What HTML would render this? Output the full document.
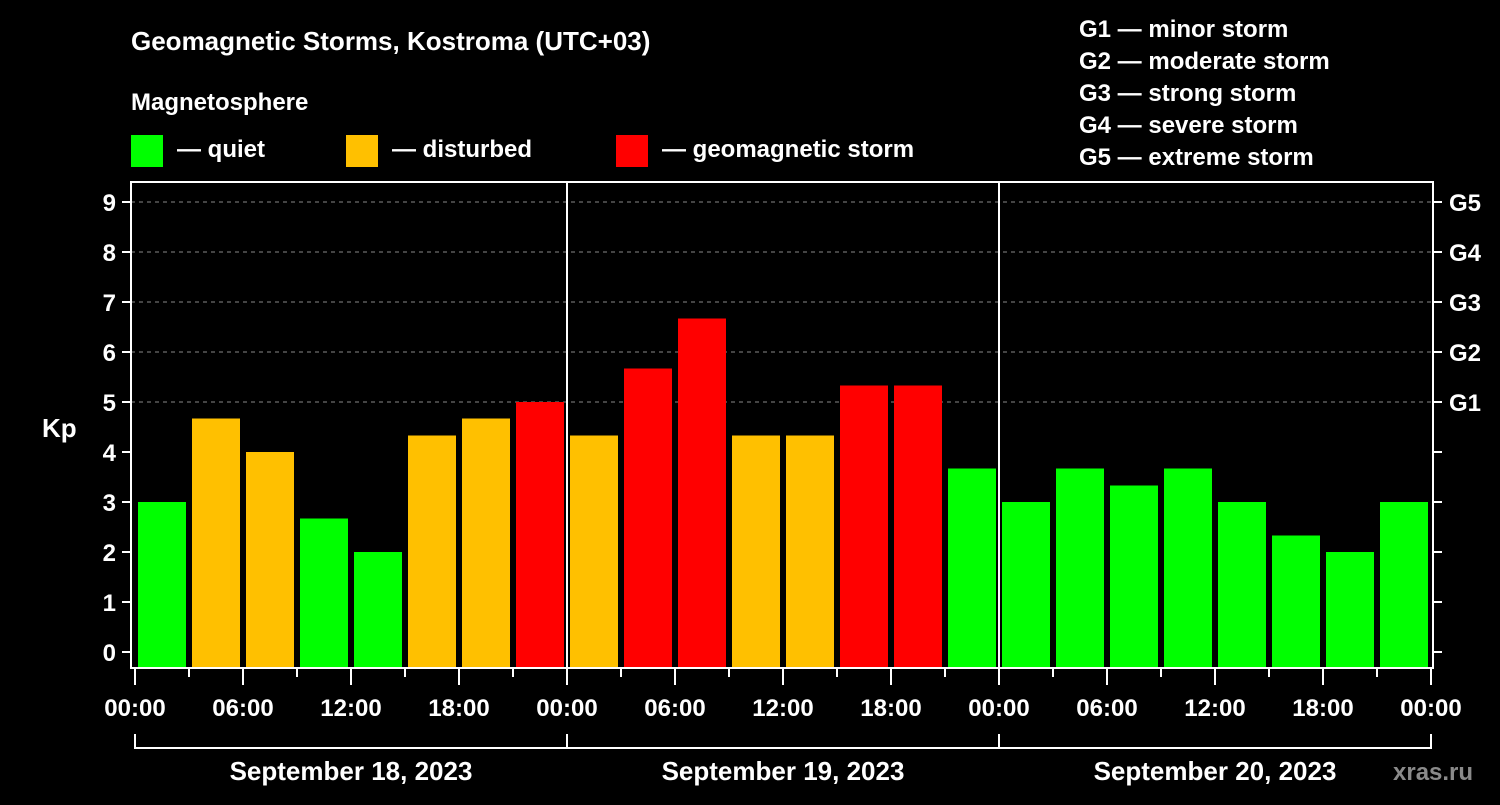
<!DOCTYPE html>
<html><head><meta charset="utf-8"><style>
html,body{margin:0;padding:0;background:#000;}
svg text{font-family:"Liberation Sans",sans-serif;font-weight:bold;fill:#fff;}
</style></head><body>
<svg id="c" width="1500" height="800" xmlns="http://www.w3.org/2000/svg">
<rect width="1500" height="800" fill="#000"/>
<text x="131" y="50" font-size="26">Geomagnetic Storms, Kostroma (UTC+03)</text>
<text x="131" y="110" font-size="24">Magnetosphere</text>
<g><rect x="131" y="135" width="32" height="32" fill="#00ff00"/><text x="177" y="157" font-size="24">— quiet</text></g>
<g><rect x="346" y="135" width="32" height="32" fill="#ffc000"/><text x="392" y="157" font-size="24">— disturbed</text></g>
<g><rect x="616" y="135" width="32" height="32" fill="#ff0000"/><text x="662" y="157" font-size="24">— geomagnetic storm</text></g>
<g font-size="24">
<text x="1079" y="37">G1 — minor storm</text>
<text x="1079" y="69">G2 — moderate storm</text>
<text x="1079" y="101">G3 — strong storm</text>
<text x="1079" y="133">G4 — severe storm</text>
<text x="1079" y="165">G5 — extreme storm</text>
</g>
<text x="42" y="437" font-size="26">Kp</text>
<text x="1393" y="780" font-size="24" fill="#888" style="fill:#8a8a8a">xras.ru</text>
<g id="plot"></g>
</svg>
<script>
const kpValues=[3,4.67,4,2.67,2,4.33,4.67,5, 4.33,5.67,6.67,4.33,4.33,5.33,5.33,3.67, 3,3.67,3.33,3.67,3,2.33,2,3];
const dayLabels=["September 18, 2023","September 19, 2023","September 20, 2023"];
const hourLabels=["00:00","06:00","12:00","18:00"];
const yTicks=[0,1,2,3,4,5,6,7,8,9];
const gLabels=["G1","G2","G3","G4","G5"];
const ns="http://www.w3.org/2000/svg";
const g=document.getElementById('plot');
const X0=135,X1=1431,Y0=652,PX=50;
const slot=(X1-X0)/kpValues.length;
const y=v=>Y0-v*PX;
function el(t,a){const e=document.createElementNS(ns,t);for(const k in a)e.setAttribute(k,a[k]);g.appendChild(e);return e;}
function col(v){return v>=5?'#ff0000':v>=4?'#ffc000':'#00ff00';}
// grid
yTicks.filter(v=>v>=5).forEach(v=>{const l=el('line',{x1:131,x2:1433,y1:y(v),y2:y(v),stroke:'#888','stroke-dasharray':'4,4','stroke-width':1});

});
// bars
kpValues.forEach((v,i)=>{const r=el('rect',{x:X0+i*slot+3,y:y(v),width:slot-6,height:668-y(v),fill:col(v)});

});
// day separators
[1,2].forEach(d=>{const l=el('line',{x1:X0+d*slot*8,x2:X0+d*slot*8,y1:182,y2:668,stroke:'#fff','stroke-width':2});

});
// frame
const f=el('rect',{x:131,y:182,width:1302,height:486,fill:'none',stroke:'#fff','stroke-width':2});


// y ticks
yTicks.forEach(v=>{el('line',{x1:122,x2:131,y1:y(v),y2:y(v),stroke:'#fff','stroke-width':2});
el('line',{x1:1433,x2:1442,y1:y(v),y2:y(v),stroke:'#fff','stroke-width':2});
const t=el('text',{x:116,y:y(v)+9,'font-size':24,'text-anchor':'end'});t.textContent=v;

});
gLabels.forEach((s,i)=>{const t=el('text',{x:1449,y:y(5+i)+9,'font-size':24});t.textContent=s;

});
// x ticks
for(let i=0;i<=kpValues.length;i++){const x=X0+i*slot;const major=i%2===0;
el('line',{x1:x,x2:x,y1:669,y2:major?685:677,stroke:'#fff','stroke-width':2});
if(major){const t=el('text',{x:x,y:716,'font-size':24,'text-anchor':'middle'});t.textContent=hourLabels[(i/2)%4];

}}
// day brackets
el('line',{x1:X0,x2:X1,y1:748,y2:748,stroke:'#fff','stroke-width':2});
for(let d=0;d<=3;d++){const x=X0+d*slot*8;el('line',{x1:x,x2:x,y1:734,y2:749,stroke:'#fff','stroke-width':2});}
dayLabels.forEach((s,d)=>{const t=el('text',{x:X0+(d+0.5)*slot*8,y:780,'font-size':26,'text-anchor':'middle'});t.textContent=s;

});
</script>
</body></html>
